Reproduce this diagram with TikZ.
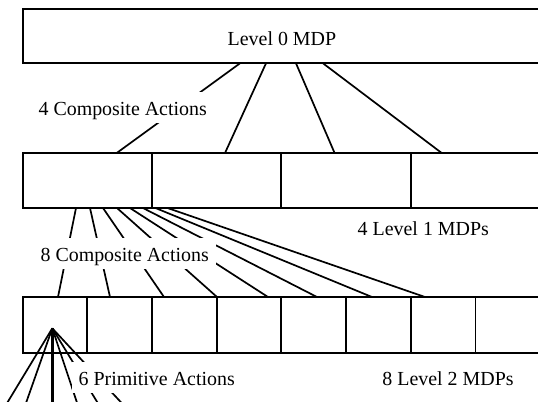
\documentclass[tikz,border=0pt]{standalone}
\usepackage{fontspec}
\setmainfont{Liberation Serif}
\usetikzlibrary{calc}
\begin{document}
\begin{tikzpicture}[x=1bp,y=-1bp,
  box/.style={draw, line width=1.9bp, outer sep=0pt, inner sep=0pt, anchor=north west},
  topbox/.style={box, minimum width=517.6bp, minimum height=54bp},
  cellone/.style={box, minimum width=129.4bp, minimum height=55bp},
  celltwo/.style={box, minimum width=64.7bp, minimum height=56bp},
  conn/.style={line width=1.7bp},
  txt/.style={inner sep=0pt, anchor=base, font=\fontsize{20}{24}\selectfont},
  gaplbl/.style={fill=white, inner xsep=7bp, inner ysep=3.5bp, text height=20bp, text depth=4bp, anchor=base, font=\fontsize{20}{24}\selectfont}]
\clip (0,0) rectangle (538,401);
\fill[white] (0,0) rectangle (538,401);
% boxes
\node[topbox] (top) at (22.6,9.3) {};
\node[cellone] (l1a) at (22.6,153) {};
\node[cellone] (l1b) at (152.0,153) {};
\node[cellone] (l1c) at (281.4,153) {};
\node[cellone] (l1d) at (410.8,153) {};
\node[celltwo] (l2a) at (22.6,297) {};
\node[celltwo] (l2b) at (87.3,297) {};
\node[celltwo] (l2c) at (152.0,297) {};
\node[celltwo] (l2d) at (216.7,297) {};
\node[celltwo] (l2e) at (281.4,297) {};
\node[celltwo] (l2f) at (346.1,297) {};
\node[celltwo] (l2g) at (410.8,297) {};
\node[celltwo] (l2h) at (475.5,297) {};
% level 0 -> level 1
\draw[conn] ($(top.south west)+(217.4,0)$) -- ($(l1a.north west)+(94.1,0)$);
\draw[conn] ($(top.south west)+(243.4,0)$) -- ($(l1b.north west)+(73,0)$);
\draw[conn] ($(top.south west)+(273.4,0)$) -- ($(l1c.north west)+(53.2,0)$);
\draw[conn] ($(top.south west)+(300.4,0)$) -- ($(l1d.north west)+(30.9,0)$);
% level 1 -> level 2
\draw[conn] ($(l1a.south west)+(53.4,0)$) -- ($(l2a.north west)+(35.4,0)$);
\draw[conn] ($(l1a.south west)+(67.4,0)$) -- ($(l2b.north west)+(22.7,0)$);
\draw[conn] ($(l1a.south west)+(80.4,0)$) -- ($(l2c.north west)+(12,0)$);
\draw[conn] ($(l1a.south west)+(94.4,0)$) -- ($(l2d.north west)+(0.3,0)$);
\draw[conn] ($(l1a.south west)+(107.4,0)$) -- ($(l2d.north west)+(51.3,0)$);
\draw[conn] ($(l1a.south west)+(120.4,0)$) -- ($(l2e.north west)+(35.6,0)$);
\draw[conn] ($(l1b.south west)+(3.5,0)$) -- ($(l2f.north west)+(25.9,0)$);
\draw[conn] ($(l1b.south west)+(15.5,0)$) -- ($(l2g.north west)+(14.2,0)$);
% primitive actions fan
\coordinate (apex) at ($(l2a.north west)+(29.7,31.3)$);
\coordinate (pa) at (5.9,405);
\coordinate (pb) at (25.3,405);
\coordinate (pc) at (52.3,405);
\coordinate (pd) at (77.8,405);
\coordinate (pe) at (99.0,405);
\coordinate (pf) at (123.5,405);
\draw[conn] (apex) -- (pa);
\draw[conn] (apex) -- (pb);
\draw[conn, line width=2.4bp] (apex) -- (pc);
\draw[conn] (apex) -- (pd);
\draw[conn] (apex) -- (pe);
\draw[conn] (apex) -- (pf);
% labels
\node[txt] (t0) at (281.9,45) {Level 0 MDP};
\node[gaplbl] (c4) at (122.7,115.7) {4 Composite Actions};
\node[gaplbl] (c8) at (124.7,261) {8 Composite Actions};
\node[gaplbl] (p6) at (156.7,385.7) {6 Primitive Actions};
\node[txt] (m1) at (423.3,235.7) {4 Level 1 MDPs};
\node[txt] (m2) at (448,385) {8 Level 2 MDPs};
\end{tikzpicture}
\end{document}
